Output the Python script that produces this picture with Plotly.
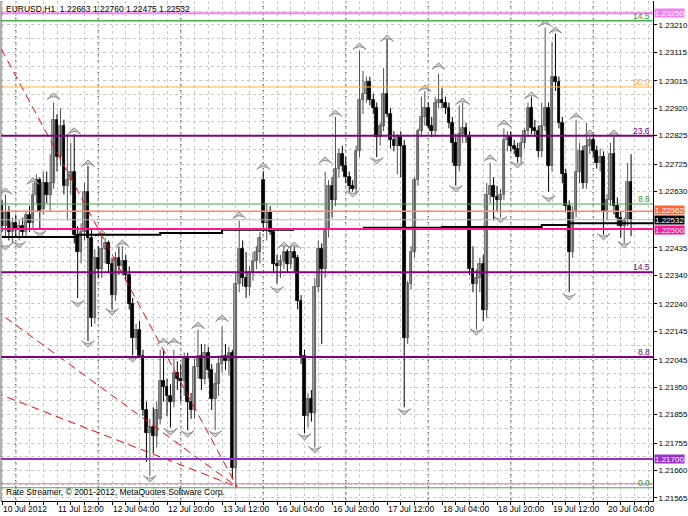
import plotly.graph_objects as go

# ---------------- data (EURUSD H1, bar index 0 = 10 Jul 2012 20:00) ----------------
opens = [1.2258, 1.2251, 1.2256, 1.2249, 1.2252, 1.2250, 1.2251, 1.2249, 1.2255, 1.2252,
         1.2262, 1.2267, 1.2257, 1.2266, 1.2262, 1.2266, 1.2288, 1.2275, 1.2286, 1.2265,
         1.2267, 1.2270, 1.2248, 1.2242, 1.2249, 1.2263, 1.2247, 1.2219, 1.2240, 1.2236,
         1.2243, 1.2245, 1.2238, 1.2227, 1.2240, 1.2237, 1.2239, 1.2234, 1.2224, 1.2212,
         1.2215, 1.2206, 1.2187, 1.2179, 1.2181, 1.2178, 1.2184, 1.2197, 1.2195, 1.2192,
         1.2190, 1.2200, 1.2198, 1.2197, 1.2205, 1.2190, 1.2187, 1.2202, 1.2206, 1.2198,
         1.2207, 1.2201, 1.2191, 1.2196, 1.2203, 1.2206, 1.2204, 1.2207, 1.2167, 1.2231,
         1.2243, 1.2233, 1.2230, 1.2235, 1.2239, 1.2242, 1.2267, 1.2252, 1.2256, 1.2249,
         1.2238, 1.2237, 1.2239, 1.2242, 1.2238, 1.2242, 1.2240, 1.2225, 1.2206, 1.2185,
         1.2191, 1.2186, 1.2230, 1.2243, 1.2236, 1.2250, 1.2265, 1.2260, 1.2271, 1.2276,
         1.2272, 1.2268, 1.2265, 1.2264, 1.2277, 1.2295, 1.2297, 1.2301, 1.2295, 1.2292,
         1.2282, 1.2286, 1.2297, 1.2290, 1.2281, 1.2279, 1.2282, 1.2279, 1.2212, 1.2231,
         1.2242, 1.2267, 1.2284, 1.2289, 1.2292, 1.2286, 1.2284, 1.2294, 1.2295, 1.2294,
         1.2292, 1.2287, 1.2280, 1.2272, 1.2283, 1.2285, 1.2282, 1.2236, 1.2231, 1.2233,
         1.2238, 1.2222, 1.2262, 1.2265, 1.2261, 1.2260, 1.2262, 1.2281, 1.2282, 1.2279,
         1.2278, 1.2275, 1.2280, 1.2284, 1.2292, 1.2285, 1.2284, 1.2277, 1.2286, 1.2292,
         1.2272, 1.2303, 1.2301, 1.2287, 1.2269, 1.2258, 1.2242, 1.2256, 1.2270, 1.2277,
         1.2266, 1.2279, 1.2281, 1.2277, 1.2273, 1.2275, 1.2256, 1.2260, 1.2276, 1.2258,
         1.2254, 1.2251, 1.2253, 1.22663]
highs = [1.2260, 1.2262, 1.2258, 1.2254, 1.2255, 1.2253, 1.2254, 1.2256, 1.2258, 1.2266,
         1.2269, 1.2268, 1.2270, 1.2270, 1.2276, 1.2294, 1.2290, 1.2292, 1.2288, 1.2283,
         1.2280, 1.2283, 1.2251, 1.2252, 1.2266, 1.2272, 1.2250, 1.2243, 1.2244, 1.2248,
         1.2247, 1.2246, 1.2240, 1.2242, 1.2244, 1.2244, 1.2241, 1.2237, 1.2226, 1.2217,
         1.2218, 1.2208, 1.2190, 1.2184, 1.2188, 1.2190, 1.2208, 1.2208, 1.2198, 1.2196,
         1.2208, 1.2204, 1.2203, 1.2207, 1.2207, 1.2193, 1.2205, 1.2215, 1.2210, 1.2210,
         1.2209, 1.2203, 1.2200, 1.2206, 1.2216, 1.2210, 1.2209, 1.2208, 1.2235, 1.2253,
         1.2246, 1.2242, 1.2237, 1.2242, 1.2244, 1.2249, 1.2270, 1.2259, 1.2258, 1.2250,
         1.2241, 1.2241, 1.2244, 1.2243, 1.2244, 1.2244, 1.2241, 1.2227, 1.2208, 1.2193,
         1.2194, 1.2233, 1.2246, 1.2245, 1.2270, 1.2267, 1.2268, 1.2289, 1.2278, 1.2279,
         1.2275, 1.2270, 1.2267, 1.2279, 1.2312, 1.2305, 1.2303, 1.2303, 1.2297, 1.2294,
         1.2287, 1.2306, 1.2316, 1.2292, 1.2284, 1.2283, 1.2284, 1.2281, 1.2232, 1.2244,
         1.2268, 1.2285, 1.2296, 1.2298, 1.2294, 1.2289, 1.2296, 1.2304, 1.2299, 1.2296,
         1.2294, 1.2289, 1.2283, 1.2293, 1.2294, 1.2287, 1.2284, 1.2244, 1.2236, 1.2240,
         1.2241, 1.2266, 1.2273, 1.2268, 1.2265, 1.2264, 1.2285, 1.2284, 1.2284, 1.2281,
         1.2280, 1.2282, 1.2285, 1.2294, 1.2296, 1.2288, 1.2286, 1.2294, 1.2320, 1.2294,
         1.2315, 1.2318, 1.2303, 1.2289, 1.2271, 1.2260, 1.2258, 1.2288, 1.2280, 1.2279,
         1.2287, 1.2282, 1.2283, 1.2279, 1.2278, 1.2277, 1.2262, 1.2280, 1.2282, 1.2261,
         1.2256, 1.2254, 1.2273, 1.22760]
lows = [1.2249, 1.2247, 1.2246, 1.2245, 1.2247, 1.2246, 1.2247, 1.2247, 1.2249, 1.2250,
        1.2259, 1.2250, 1.2255, 1.2259, 1.2256, 1.2264, 1.2270, 1.2272, 1.2262, 1.2253,
        1.2262, 1.2245, 1.2226, 1.2238, 1.2246, 1.2211, 1.2216, 1.2217, 1.2233, 1.2233,
        1.2238, 1.2235, 1.2222, 1.2225, 1.2234, 1.2234, 1.2232, 1.2222, 1.2206, 1.2208,
        1.2207, 1.2185, 1.2169, 1.2164, 1.2172, 1.2174, 1.2182, 1.2190, 1.2185, 1.2181,
        1.2188, 1.2194, 1.2190, 1.2192, 1.2180, 1.2184, 1.2184, 1.2198, 1.2194, 1.2196,
        1.2198, 1.2187, 1.2180, 1.2192, 1.2200, 1.2201, 1.2199, 1.2163, 1.2160, 1.2228,
        1.2230, 1.2226, 1.2227, 1.2232, 1.2236, 1.2238, 1.2249, 1.2246, 1.2248, 1.2235,
        1.2231, 1.2233, 1.2236, 1.2235, 1.2236, 1.2235, 1.2222, 1.2203, 1.2179, 1.2181,
        1.2183, 1.2174, 1.2228, 1.2210, 1.2233, 1.2247, 1.2254, 1.2258, 1.2268, 1.2270,
        1.2266, 1.2263, 1.2263, 1.2262, 1.2275, 1.2290, 1.2294, 1.2293, 1.2290, 1.2275,
        1.2279, 1.2284, 1.2289, 1.2278, 1.2277, 1.2269, 1.2268, 1.2188, 1.2210, 1.2229,
        1.2240, 1.2265, 1.2282, 1.2286, 1.2285, 1.2282, 1.2282, 1.2292, 1.2292, 1.2290,
        1.2285, 1.2273, 1.2265, 1.2270, 1.2280, 1.2280, 1.2234, 1.2228, 1.2215, 1.2228,
        1.2218, 1.2219, 1.2259, 1.2253, 1.2256, 1.2254, 1.2260, 1.2277, 1.2277, 1.2276,
        1.2273, 1.2273, 1.2278, 1.2282, 1.2283, 1.2282, 1.2275, 1.2275, 1.2284, 1.2263,
        1.2270, 1.2298, 1.2285, 1.2266, 1.2256, 1.2228, 1.2240, 1.2254, 1.2266, 1.2264,
        1.2264, 1.2276, 1.2275, 1.2271, 1.2270, 1.2248, 1.2253, 1.2258, 1.2255, 1.2251,
        1.2247, 1.2245, 1.2251, 1.22475]
closes = [1.2251, 1.2256, 1.2249, 1.2252, 1.2250, 1.2251, 1.2249, 1.2255, 1.2252, 1.2262,
          1.2267, 1.2256, 1.2266, 1.2262, 1.2266, 1.2288, 1.2275, 1.2286, 1.2265, 1.2267,
          1.2270, 1.2248, 1.2242, 1.2249, 1.2263, 1.2247, 1.2219, 1.2240, 1.2236, 1.2243,
          1.2245, 1.2238, 1.2227, 1.2240, 1.2237, 1.2239, 1.2234, 1.2224, 1.2212, 1.2215,
          1.2206, 1.2187, 1.2179, 1.2181, 1.2178, 1.2187, 1.2197, 1.2195, 1.2192, 1.2190,
          1.2200, 1.2198, 1.2197, 1.2205, 1.2190, 1.2187, 1.2202, 1.2206, 1.2198, 1.2207,
          1.2201, 1.2191, 1.2196, 1.2203, 1.2206, 1.2204, 1.2207, 1.2167, 1.2231, 1.2243,
          1.2233, 1.2230, 1.2235, 1.2239, 1.2242, 1.2247, 1.2252, 1.2256, 1.2249, 1.2238,
          1.2237, 1.2239, 1.2242, 1.2238, 1.2242, 1.2240, 1.2225, 1.2206, 1.2185, 1.2191,
          1.2186, 1.2230, 1.2243, 1.2236, 1.2250, 1.2265, 1.2260, 1.2271, 1.2276, 1.2272,
          1.2268, 1.2265, 1.2264, 1.2277, 1.2295, 1.2297, 1.2301, 1.2295, 1.2292, 1.2282,
          1.2286, 1.2297, 1.2290, 1.2281, 1.2279, 1.2282, 1.2279, 1.2212, 1.2231, 1.2242,
          1.2267, 1.2284, 1.2289, 1.2292, 1.2286, 1.2284, 1.2294, 1.2295, 1.2294, 1.2292,
          1.2287, 1.2280, 1.2272, 1.2283, 1.2285, 1.2282, 1.2236, 1.2231, 1.2233, 1.2238,
          1.2222, 1.2262, 1.2265, 1.2261, 1.2260, 1.2262, 1.2281, 1.2282, 1.2279, 1.2278,
          1.2275, 1.2280, 1.2284, 1.2292, 1.2285, 1.2284, 1.2277, 1.2286, 1.2292, 1.2272,
          1.2303, 1.2301, 1.2287, 1.2269, 1.2258, 1.2242, 1.2256, 1.2270, 1.2277, 1.2266,
          1.2279, 1.2281, 1.2277, 1.2273, 1.2275, 1.2256, 1.2260, 1.2276, 1.2258, 1.2254,
          1.2251, 1.2253, 1.22663, 1.22532]
bar_idx = list(range(len(opens)))

# fractals (bar, price of the marker)
frac_up_bars = [1, 9, 15, 21, 25, 29, 35, 47, 50, 57, 64, 69, 76, 82, 85, 94, 97, 104, 112,
                123, 127, 134, 142, 146, 154, 158, 161, 167, 171, 178]
frac_up_prices = [1.22643, 1.22678, 1.22973, 1.22852, 1.22740, 1.22497, 1.22462, 1.22121,
                  1.22121, 1.22176, 1.22201, 1.22559, 1.22730, 1.22455, 1.22455, 1.22751,
                  1.22914, 1.23147, 1.23175, 1.23001, 1.23078, 1.22956, 1.22758, 1.22879,
                  1.22977, 1.23227, 1.23203, 1.22904, 1.22845, 1.22845]
frac_dn_bars = [1, 5, 11, 22, 25, 32, 38, 43, 49, 54, 62, 80, 88, 91, 102, 109, 117, 132,
                138, 145, 150, 159, 165, 175, 181]
frac_dn_prices = [1.22427, 1.22434, 1.22472, 1.22229, 1.22089, 1.22201, 1.22037, 1.21620,
                  1.21783, 1.21776, 1.21776, 1.22277, 1.21766, 1.21721, 1.22611, 1.22726,
                  1.21853, 1.22629, 1.22131, 1.22521, 1.22712, 1.22594, 1.22253, 1.22462,
                  1.22434]

# slow black step line (two segments)
ma1_bars = [0, 22, 46, 64, 85]
ma1_vals = [1.22472, 1.22480, 1.22486, 1.22497, 1.22497]
ma2_bars = [105, 128, 157, 165, 190]
ma2_vals = [1.22504, 1.22507, 1.22514, 1.22520, 1.22524]

# fibonacci fan (red dashed): origin and each ray's price at bar 0
fan_origin_bar = 68.4
fan_origin_price = 1.21603
fan_ray_prices_at_bar0 = [1.23121, 1.22201, 1.21922]

# horizontal levels
level_prices = [1.23250, 1.23224, 1.22994, 1.22824, 1.22587, 1.22562, 1.22532, 1.22500,
                1.22350, 1.22055, 1.21700, 1.21614, 1.21600]
fib_label_prices = [1.23224, 1.22994, 1.22824, 1.22587, 1.22350, 1.22055, 1.21600]
fib_label_texts = ["14.5", "50.0", "23.6", "8.8", "14.5", "8.8", "0.0"]
price_box_values = [1.23250, 1.22562, 1.22532, 1.22500, 1.21700]

# axes (the 1.2253x tick is hidden behind the current-price box in the original)
price_ticks = [1.21565, 1.21660, 1.21755, 1.21855, 1.21950, 1.22045, 1.22145, 1.22240,
               1.22340, 1.22435, 1.22630, 1.22725, 1.22825, 1.22920, 1.23015,
               1.23115, 1.23210]
time_label_bars = [0, 16, 32, 48, 64, 80, 96, 112, 128, 144, 160, 176]
time_labels = ["10 Jul 2012", "11 Jul 12:00", "12 Jul 04:00", "12 Jul 20:00", "13 Jul 12:00",
               "16 Jul 04:00", "16 Jul 20:00", "17 Jul 12:00", "18 Jul 04:00", "18 Jul 20:00",
               "19 Jul 12:00", "20 Jul 04:00"]
day_start_bars = [4, 28, 52, 76, 100, 124, 148, 172]

# ---------------- styles ----------------
FONT = "Liberation Sans, Arial, sans-serif"
level_styles = [("#EE82EE", 2), ("#4CAF50", 1.5), ("#FFB347", 1), ("#800080", 2),
                ("#3CB043", 1), ("#FF8C60", 1.5), ("#C0C0C0", 1), ("#FF1493", 2),
                ("#800080", 2), ("#800080", 2), ("#9932CC", 2), ("#DA70D6", 1),
                ("#3CB043", 1)]
fib_label_colors = ["#2E9E2E", "#FFA830", "#800080", "#2E9E2E", "#800080", "#800080", "#2E9E2E"]
price_box_colors = ["#EE82EE", "#FF6633", "#000000", "#FF1493", "#9932CC"]
price_box_yshift = [0, 1, 0, -1, 0]

X0 = -0.3
BAR_PX = 3.4375
PLOT_W = 652
X1 = X0 + PLOT_W / BAR_PX
Y0, Y1 = 1.21554, 1.23293

fig = go.Figure()

# wicks
bull_x, bull_y, bear_x, bear_y = [], [], [], []
for i, o, h, l, c in zip(bar_idx, opens, highs, lows, closes):
    if c >= o:
        bull_x += [i, i, None]
        bull_y += [l, h, None]
    else:
        bear_x += [i, i, None]
        bear_y += [l, h, None]
fig.add_trace(go.Scatter(x=bull_x, y=bull_y, mode="lines",
                         line=dict(color="#505050", width=1), hoverinfo="skip"))
fig.add_trace(go.Scatter(x=bear_x, y=bear_y, mode="lines",
                         line=dict(color="#000000", width=1), hoverinfo="skip"))

# bodies
bases = [min(o, c) for o, c in zip(opens, closes)]
heights = [max(abs(c - o), 0.00003) for o, c in zip(opens, closes)]
fills = ["#A8A8A8" if c >= o else "#000000" for o, c in zip(opens, closes)]
edges = ["#555555" if c >= o else "#000000" for o, c in zip(opens, closes)]
fig.add_trace(go.Bar(x=bar_idx, y=heights, base=bases, width=0.8,
                     marker=dict(color=fills, line=dict(color=edges, width=0.8)),
                     hoverinfo="skip"))

# fractals
fig.add_trace(go.Scatter(x=frac_up_bars, y=frac_up_prices, mode="markers",
                         marker=dict(symbol="arrow-wide", size=9, angle=0, color="#D0D0D0",
                                     line=dict(color="#8A8A8A", width=1)), hoverinfo="skip"))
fig.add_trace(go.Scatter(x=frac_dn_bars, y=frac_dn_prices, mode="markers",
                         marker=dict(symbol="arrow-wide", size=9, angle=180, color="#D0D0D0",
                                     line=dict(color="#8A8A8A", width=1)), hoverinfo="skip"))

# black step line
fig.add_trace(go.Scatter(x=ma1_bars, y=ma1_vals, mode="lines", line_shape="hv",
                         line=dict(color="#000000", width=2), hoverinfo="skip"))
fig.add_trace(go.Scatter(x=ma2_bars, y=ma2_vals, mode="lines", line_shape="hv",
                         line=dict(color="#000000", width=2), hoverinfo="skip"))

# fan rays
for p0 in fan_ray_prices_at_bar0:
    slope = (fan_origin_price - p0) / (fan_origin_bar - 0)
    xs = [-2, fan_origin_bar]
    ys = [p0 + slope * (-2), fan_origin_price]
    fig.add_trace(go.Scatter(x=xs, y=ys, mode="lines",
                             line=dict(color="#FF0000", width=1, dash="8px,5px"),
                             hoverinfo="skip"))

shapes = []
# day separators
for b in day_start_bars:
    shapes.append(dict(type="line", xref="x", yref="paper", x0=b, x1=b, y0=0, y1=1,
                       line=dict(color="#303030", width=1, dash="3px,3px"), layer="below"))
# horizontal levels
for p, (col, w) in zip(level_prices, level_styles):
    shapes.append(dict(type="line", xref="paper", yref="y", x0=0, x1=1, y0=p, y1=p,
                       line=dict(color=col, width=w), layer="above"))
# left border
shapes.append(dict(type="line", xref="paper", yref="paper", x0=0, x1=0, y0=0, y1=1,
                   line=dict(color="#606060", width=1)))

annotations = []
for p, t, col in zip(fib_label_prices, fib_label_texts, fib_label_colors):
    annotations.append(dict(x=1, xref="paper", y=p, yref="y", text=t, showarrow=False,
                            xanchor="right", yanchor="bottom", xshift=-1, yshift=-2,
                            font=dict(family=FONT, size=8.5, color=col)))
for p, col, ys in zip(price_box_values, price_box_colors, price_box_yshift):
    annotations.append(dict(x=1, xref="paper", y=p, yref="y", text=f"{p:.5f}",
                            showarrow=False, xanchor="left", yanchor="middle", xshift=1,
                            yshift=ys, bgcolor=col, borderpad=0, height=8,
                            font=dict(family=FONT, size=8, color="#FFFFFF")))
for b, t in zip(time_label_bars, time_labels):
    annotations.append(dict(x=b, xref="x", y=0, yref="paper", text=t, showarrow=False,
                            xanchor="left", yanchor="top", yshift=-1, xshift=-1,
                            font=dict(family=FONT, size=8.5, color="#000000")))
annotations.append(dict(x=0, xref="paper", y=1, yref="paper", showarrow=False,
                        text=f"EURUSD,H1  {opens[-1]:.5f} {highs[-1]:.5f} {lows[-1]:.5f} {closes[-1]:.5f}",
                        xanchor="left", yanchor="top", xshift=3, yshift=-1,
                        font=dict(family=FONT, size=8.5, color="#000000")))
annotations.append(dict(x=0, xref="paper", y=0, yref="paper", showarrow=False,
                        text="Rate Streamer, © 2001-2012, MetaQuotes Software Corp.",
                        xanchor="left", yanchor="bottom", xshift=3, yshift=2,
                        font=dict(family=FONT, size=8.5, color="#000000")))

minor_vals = [(a + b) / 2 for a, b in zip(price_ticks[:-1], price_ticks[1:])]
minor_vals.append(price_ticks[-1] + (price_ticks[-1] - price_ticks[-2]) / 2)
grid_bars = list(range(0, 192, 4))

fig.update_layout(
    width=688, height=516,
    margin=dict(l=1, r=35, t=1, b=15),
    paper_bgcolor="#FFFFFF", plot_bgcolor="#FFFFFF",
    showlegend=False, bargap=0,
    shapes=shapes, annotations=annotations,
    xaxis=dict(range=[X0, X1], tickvals=grid_bars, showticklabels=False,
               showgrid=True, gridcolor="#C8C8C8", griddash="3px,3px", gridwidth=1,
               ticks="outside", ticklen=3, tickcolor="#000000",
               showline=True, linecolor="#000000", linewidth=1, zeroline=False,
               fixedrange=True),
    yaxis=dict(range=[Y0, Y1], side="right", tickvals=price_ticks,
               ticktext=[f"{v:.5f}" for v in price_ticks],
               tickfont=dict(family=FONT, size=8, color="#000000"),
               ticks="outside", ticklen=3, tickcolor="#000000",
               showgrid=True, gridcolor="#C8C8C8", griddash="3px,3px", gridwidth=1,
               minor=dict(tickvals=minor_vals, showgrid=True, gridcolor="#C8C8C8",
                          griddash="3px,3px", ticks=""),
               showline=True, linecolor="#000000", linewidth=1, zeroline=False,
               fixedrange=True),
)

fig.write_html("out.html", config={"displayModeBar": False},
               post_script="document.body.style.margin='0';")
